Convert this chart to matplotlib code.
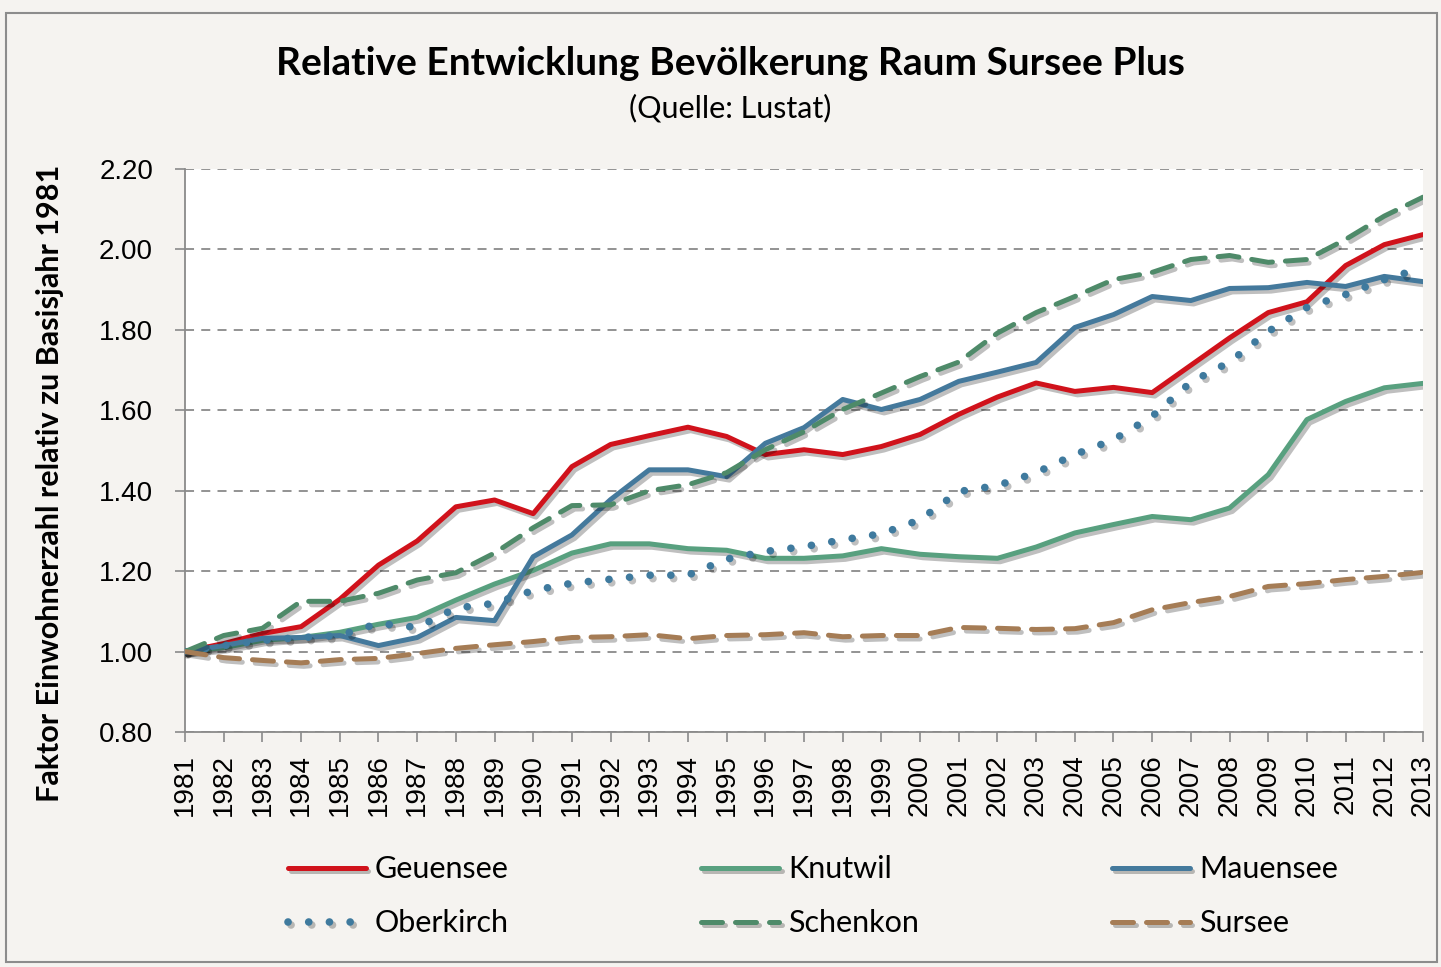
import matplotlib
matplotlib.use("Agg")
import matplotlib.pyplot as plt
import matplotlib.patheffects as pe
from matplotlib.patches import Rectangle
import numpy as np

# Daten (Faktor relativ zu 1981)
years = list(range(1981, 2014))

geuensee = [1.00, 1.02, 1.045, 1.062, 1.13, 1.215, 1.275, 1.36, 1.377, 1.343,
            1.46, 1.515, 1.537, 1.558, 1.535, 1.49, 1.502, 1.49, 1.51, 1.54,
            1.59, 1.633, 1.668, 1.647, 1.657, 1.644, 1.712, 1.78, 1.843, 1.87,
            1.96, 2.012, 2.037]
knutwil = [1.00, 1.01, 1.028, 1.035, 1.048, 1.068, 1.085, 1.128, 1.168, 1.202,
           1.245, 1.268, 1.268, 1.256, 1.252, 1.232, 1.232, 1.238, 1.256, 1.242,
           1.236, 1.232, 1.26, 1.295, 1.316, 1.336, 1.328, 1.357, 1.44, 1.577,
           1.622, 1.656, 1.667]
mauensee = [1.00, 1.015, 1.033, 1.035, 1.04, 1.015, 1.035, 1.085, 1.077, 1.236,
            1.29, 1.378, 1.452, 1.452, 1.435, 1.518, 1.557, 1.627, 1.602, 1.627,
            1.672, 1.695, 1.719, 1.806, 1.838, 1.883, 1.873, 1.903, 1.905, 1.918,
            1.908, 1.933, 1.92]
oberkirch = [1.00, 1.015, 1.028, 1.035, 1.04, 1.07, 1.06, 1.108, 1.12, 1.152,
             1.17, 1.18, 1.19, 1.19, 1.23, 1.249, 1.261, 1.278, 1.293, 1.328,
             1.398, 1.413, 1.445, 1.49, 1.527, 1.585, 1.67, 1.72, 1.796, 1.856,
             1.888, 1.925, 1.955]
schenkon = [1.00, 1.04, 1.058, 1.125, 1.125, 1.145, 1.178, 1.196, 1.245, 1.308,
            1.363, 1.365, 1.40, 1.415, 1.445, 1.502, 1.547, 1.602, 1.643, 1.684,
            1.72, 1.792, 1.843, 1.883, 1.925, 1.943, 1.975, 1.985, 1.968, 1.975,
            2.025, 2.083, 2.13]
sursee = [1.00, 0.985, 0.978, 0.972, 0.98, 0.983, 0.995, 1.008, 1.017, 1.025,
          1.035, 1.037, 1.042, 1.032, 1.04, 1.042, 1.047, 1.037, 1.04, 1.04,
          1.06, 1.058, 1.055, 1.057, 1.072, 1.104, 1.122, 1.137, 1.162, 1.169,
          1.179, 1.187, 1.197]

bg = "#F5F3F0"
fig = plt.figure(figsize=(14.41, 9.67), dpi=100, facecolor=bg)
fig.patches.append(Rectangle((0.004, 0.005), 0.993, 0.982, transform=fig.transFigure,
                             fill=False, edgecolor="#8C8C8C", linewidth=1.5))

ax = fig.add_axes([0.1284, 0.2430, 0.8591, 0.5822])
ax.set_facecolor("white")

shadow = [pe.SimpleLineShadow(offset=(2, -2.5), alpha=0.25, shadow_color="black"), pe.Normal()]

series = [
    ("Geuensee", geuensee, "#D0121B", "-"),
    ("Knutwil", knutwil, "#58A07F", "-"),
    ("Mauensee", mauensee, "#44799C", "-"),
    ("Oberkirch", oberkirch, "#3F7A9E", (0, (0.01, 2.7))),
    ("Schenkon", schenkon, "#4E8A69", (0, (4.2, 2.6))),
    ("Sursee", sursee, "#A57C55", (0, (4.2, 2.6))),
]
handles = {}
for name, vals, col, ls in series:
    lw = 5.5 if name == "Oberkirch" else 3.6
    h, = ax.plot(years, vals, color=col, linestyle=ls, linewidth=lw,
                 solid_capstyle="round", dash_capstyle="round",
                 path_effects=shadow, label=name, zorder=3)
    handles[name] = h

ax.set_xlim(1981, 2013)
ax.set_ylim(0.8, 2.2)
ax.set_xticks(years)
ax.set_xticklabels([str(y) for y in years], rotation=90, fontsize=20,
                   family="Liberation Sans")
yt = np.arange(0.8, 2.21, 0.2)
ax.set_yticks(yt)
ax.set_yticklabels([f"{v:.2f}" for v in yt], fontsize=20, family="Liberation Sans")
ax.yaxis.grid(True, color="#8A8A8A", linestyle=(0, (5, 4)), linewidth=1.3)
ax.set_axisbelow(True)
for s in ["top", "right"]:
    ax.spines[s].set_visible(False)
for s in ["left", "bottom"]:
    ax.spines[s].set_color("#8A8A8A")
    ax.spines[s].set_linewidth(1.3)
ax.tick_params(axis="both", color="#8A8A8A", length=7, width=1.2)
ax.tick_params(axis="y", pad=16)
ax.tick_params(axis="x", pad=9)

fig.text(0.507, 0.934, "Relative Entwicklung Bevölkerung Raum Sursee Plus",
         ha="center", va="center", fontsize=28, fontweight="bold", family="Lato")
fig.text(0.507, 0.888, "(Quelle: Lustat)", ha="center", va="center",
         fontsize=22, family="Lato")
fig.text(0.035, 0.50, "Faktor Einwohnerzahl relativ zu Basisjahr 1981",
         rotation=90, ha="center", va="center", fontsize=22, fontweight="bold",
         family="Lato")

order = ["Geuensee", "Oberkirch", "Knutwil", "Schenkon", "Mauensee", "Sursee"]
leg = fig.legend([handles[n] for n in order], order, loc="center",
                 bbox_to_anchor=(0.564, 0.073), ncol=3, frameon=False,
                 prop={"family": "Lato", "size": 22}, handlelength=2.55,
                 handletextpad=0.3, columnspacing=6.3, labelspacing=0.85)

plt.savefig("out.png", dpi=100, facecolor=bg)
